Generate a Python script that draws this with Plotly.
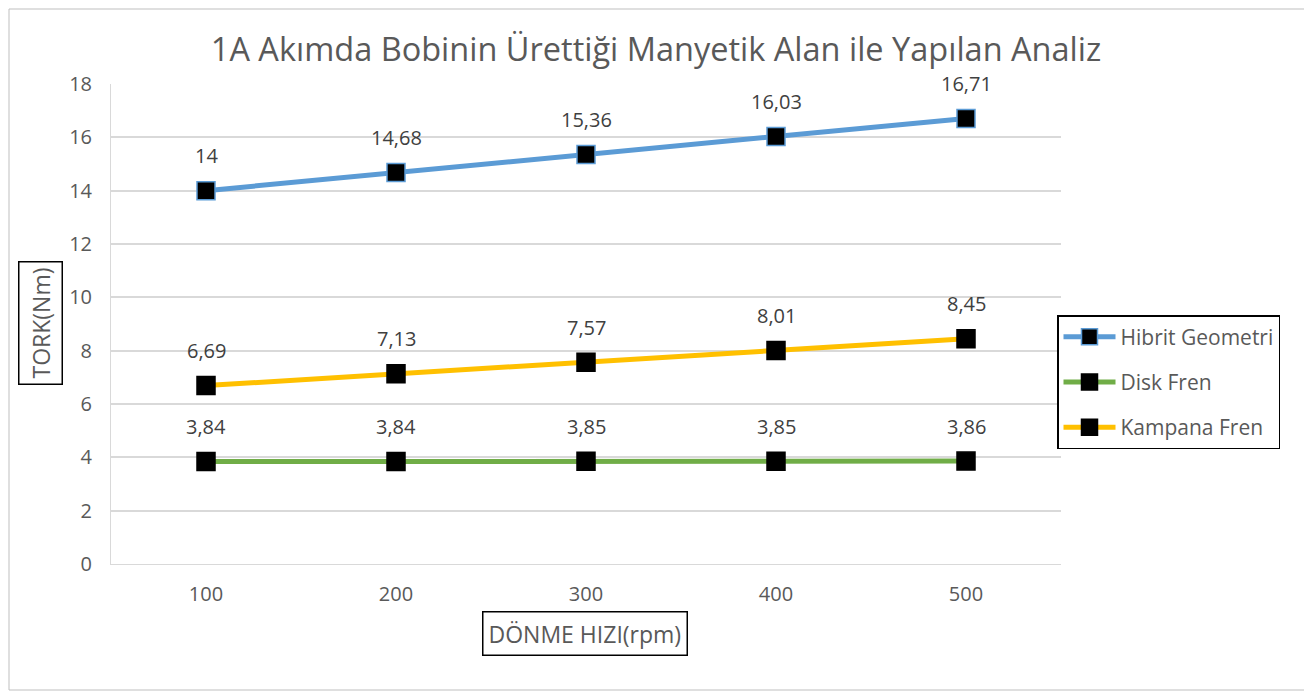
import plotly.graph_objects as go

categories = ["100", "200", "300", "400", "500"]
hibrit = [14, 14.68, 15.36, 16.03, 16.71]
disk = [3.84, 3.84, 3.85, 3.85, 3.86]
kampana = [6.69, 7.13, 7.57, 8.01, 8.45]
series_names = ["Hibrit Geometri", "Disk Fren", "Kampana Fren"]
y_ticks = [0, 2, 4, 6, 8, 10, 12, 14, 16, 18]

FONT = "Open Sans"
TXT = "#595959"
OFF = 8  # page body margin

W, H = 1312, 696
# target plot area in screenshot pixels
X0, X1, Y0, Y1 = 111, 1061, 84, 564
L, T = X0 - OFF, Y0 - OFF
R = (W + OFF) - X1
B = (H + OFF) - Y1
PW, PH = X1 - X0, Y1 - Y0

def px(x):
    return (x - X0) / PW

def py(y):
    return (Y1 - y) / PH

fig = go.Figure()
colors = ["#5B9BD5", "#70AD47", "#FFC000"]
outlines = ["#5B9BD5", "#000000", "#000000"]
for name, vals, c, oc in zip(series_names, [hibrit, disk, kampana], colors, outlines):
    fig.add_trace(go.Scatter(
        x=categories, y=vals, name=name, mode="lines+markers", legendgroup=name,
        line=dict(color=c, width=5),
        marker=dict(symbol="square", size=18, color="black", line=dict(color=oc, width=1.5)),
    ))
    for i, v in enumerate(vals):
        fig.add_annotation(x=i, y=v, text=f"{v:g}".replace(".", ","), showarrow=False,
                           yshift=35, font=dict(family=FONT, size=20, color="#404040"))

fig.add_annotation(xref="paper", yref="paper", x=px(40), y=py(323), text="TORK(Nm)",
                   xanchor="center", yanchor="middle",
                   textangle=-90, showarrow=False, bordercolor="black", borderwidth=1.5,
                   borderpad=5, font=dict(family=FONT, size=23, color=TXT))
fig.add_annotation(xref="paper", yref="paper", x=px(585), y=py(633), text="DÖNME HIZI(rpm)",
                   xanchor="center", yanchor="middle",
                   showarrow=False, bordercolor="black", borderwidth=1.5,
                   borderpad=5, font=dict(family=FONT, size=23, color=TXT))

fig.add_shape(type="rect", xref="paper", yref="paper", x0=px(9), x1=px(1305), y0=py(690), y1=py(9),
              line=dict(color="#BFBFBF", width=1), layer="below")

fig.update_layout(
    width=W, height=H,
    margin=dict(l=L, r=R, t=T, b=B),
    paper_bgcolor="white", plot_bgcolor="white",
    title=dict(text="1A Akımda Bobinin Ürettiği Manyetik Alan ile Yapılan Analiz",
               xref="container", x=(656 - OFF) / W, xanchor="center",
               yref="container", y=1 - (50 - OFF) / H, yanchor="middle",
               font=dict(family=FONT, size=32.5, color=TXT)),
    font=dict(family=FONT, color=TXT),
    legend=dict(x=px(1057), y=py(315), xanchor="left", yanchor="top",
                bordercolor="black", borderwidth=1.5, bgcolor="white", itemwidth=52,
                font=dict(family=FONT, size=21, color=TXT), tracegroupgap=15),
    showlegend=True,
)
fig.update_xaxes(type="category", range=[-0.5, 4.5], showgrid=False, showline=True,
                 linecolor="#D9D9D9", ticks="", ticklabelstandoff=12,
                 tickfont=dict(family=FONT, size=20, color=TXT))
fig.update_yaxes(range=[0, 18], tickvals=y_ticks, showgrid=True, gridcolor="#D9D9D9",
                 gridwidth=1.5, showline=True, linecolor="#D9D9D9", zeroline=False, ticks="",
                 ticklabelstandoff=14, tickfont=dict(family=FONT, size=20, color=TXT))

fig.write_html("out.html")
